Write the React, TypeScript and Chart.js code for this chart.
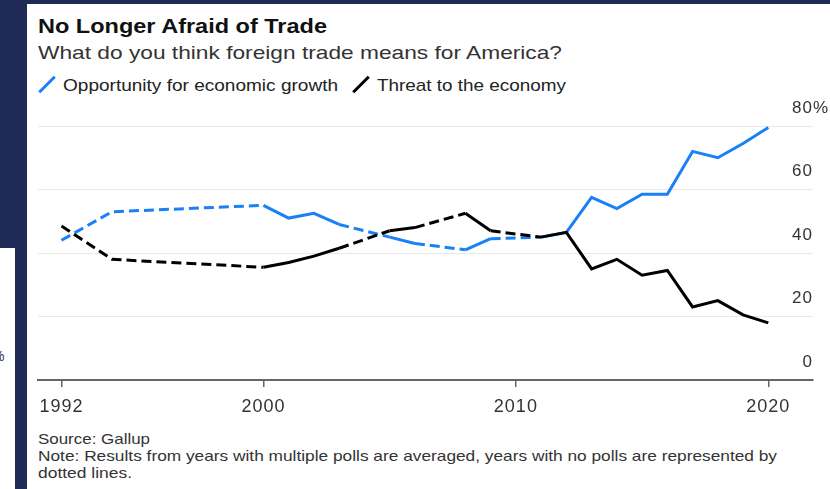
import React, { useEffect, useLayoutEffect, useRef } from 'react';
import { Chart, registerables } from 'chart.js';

Chart.register(...registerables);

// ---- data ----
const years = [1992, 1994, 2000, 2001, 2002, 2003, 2005, 2006, 2008, 2009, 2011, 2012, 2013, 2014, 2015, 2016, 2017, 2018, 2019, 2020];
const opportunity = [44, 53, 55, 51, 52.5, 49, 45, 43, 41, 44.5, 45, 46.5, 57.5, 54, 58.5, 58.5, 72, 70, 74.5, 79.5];
const threat = [48.5, 38, 35.5, 37, 39, 41.5, 47, 48, 52.5, 47, 45, 46.5, 35, 38, 33, 34.5, 23, 25, 20.5, 18];
const xTickValues = [1992, 2000, 2010, 2020];
const yTickValues = [0, 20, 40, 60, 80];
const seriesNames = ['Opportunity for economic growth', 'Threat to the economy'];
const titleText = 'No Longer Afraid of Trade';
const subtitleText = 'What do you think foreign trade means for America?';
const sourceText = 'Source: Gallup';
const noteLine1 = 'Note: Results from years with multiple polls are averaged, years with no polls are represented by';
const noteLine2 = 'dotted lines.';

// ---- styles ----
const FAMILY = '"Liberation Sans", Arial, Helvetica, sans-serif';
const BLUE = '#1a80f5';
const BLACK = '#000000';
const NAVY = '#1f2a56';
const TEXT = '#333333';

type TxtProps = {
  x: number;
  base: number;
  size: number;
  width: number;
  weight?: number;
  color?: string;
  children: React.ReactNode;
};

function Txt({ x, base, size, width, weight = 400, color = TEXT, children }: TxtProps) {
  const ref = useRef<HTMLSpanElement>(null);
  useLayoutEffect(() => {
    const fit = () => {
      const el = ref.current;
      if (!el) return;
      el.style.transform = 'none';
      const w = el.getBoundingClientRect().width;
      if (w > 0) el.style.transform = `scaleX(${width / w})`;
    };
    fit();
    if ((document as any).fonts && (document as any).fonts.ready) {
      (document as any).fonts.ready.then(fit);
    }
  }, [width]);
  const top = base - size * 0.8465;
  return (
    <span
      ref={ref}
      style={{
        position: 'absolute',
        left: x,
        top,
        fontSize: size,
        lineHeight: `${size}px`,
        fontWeight: weight,
        color,
        whiteSpace: 'nowrap',
        transformOrigin: '0 0',
        fontFamily: FAMILY,
      }}
    >
      {children}
    </span>
  );
}

function Slash({ cx, cy, color }: { cx: number; cy: number; color: string }) {
  return (
    <div
      style={{
        position: 'absolute',
        left: cx - 11,
        top: cy - 1.5,
        width: 22,
        height: 3,
        background: color,
        transform: 'rotate(-45deg)',
      }}
    />
  );
}

const spacingPlugin = {
  id: 'spacing',
  beforeDraw(chart: any) {
    chart.ctx.letterSpacing = '1px';
  },
  afterDraw(chart: any) {
    const ctx = chart.ctx;
    const ys = chart.scales.y;
    ctx.save();
    ctx.font = `17px ${FAMILY}`;
    ctx.fillStyle = TEXT;
    ctx.textAlign = 'left';
    ctx.textBaseline = 'middle';
    ctx.fillText('%', chart.chartArea.right, ys.getPixelForValue(yTickValues[yTickValues.length - 1]) - 18);
    ctx.restore();
    ctx.letterSpacing = '0px';
  },
};

function LineChart() {
  const canvasRef = useRef<HTMLCanvasElement>(null);
  useEffect(() => {
    const gapDash = (ctx: any) => (ctx.p1.parsed.x - ctx.p0.parsed.x > 1 ? [10, 5] : undefined);
    const chart = new Chart(canvasRef.current as HTMLCanvasElement, {
      type: 'line',
      data: {
        datasets: [
          {
            label: seriesNames[0],
            data: years.map((y, i) => ({ x: y, y: opportunity[i] })),
            borderColor: BLUE,
            backgroundColor: BLUE,
            borderWidth: 3,
            pointRadius: 0,
            tension: 0,
            order: 1,
            clip: false as any,
            segment: { borderDash: gapDash },
          },
          {
            label: seriesNames[1],
            data: years.map((y, i) => ({ x: y, y: threat[i] })),
            borderColor: BLACK,
            backgroundColor: BLACK,
            borderWidth: 3,
            pointRadius: 0,
            tension: 0,
            order: 0,
            clip: false as any,
            segment: { borderDash: gapDash },
          },
        ],
      },
      options: {
        animation: false,
        responsive: true,
        maintainAspectRatio: false,
        layout: { padding: { left: 38, right: 17, top: 30, bottom: 0 } },
        plugins: {
          legend: { display: false },
          tooltip: { enabled: false },
          title: { display: false },
        },
        scales: {
          x: {
            type: 'linear',
            min: 1991.07,
            max: 2021.77,
            afterBuildTicks: (s: any) => {
              s.ticks = xTickValues.map((v) => ({ value: v }));
            },
            afterFit: (s: any) => {
              s.height = 46;
            },
            ticks: {
              autoSkip: false,
              maxRotation: 0,
              color: TEXT,
              padding: 9,
              font: { family: FAMILY, size: 18 },
              callback: (v: any) => String(v),
            },
            grid: {
              drawOnChartArea: false,
              drawTicks: true,
              tickLength: 7,
              color: '#666666',
              lineWidth: 1.5,
            },
            border: { display: true, color: '#666666', width: 2 },
          },
          y: {
            type: 'linear',
            position: 'right',
            min: 0,
            max: 80,
            afterBuildTicks: (s: any) => {
              s.ticks = yTickValues.map((v) => ({ value: v }));
            },
            afterFit: (s: any) => {
              s.width = 0;
            },
            ticks: {
              mirror: true,
              padding: 0,
              labelOffset: -18,
              color: TEXT,
              font: { family: FAMILY, size: 17 },
              callback: (v: any) => String(v),
            },
            grid: { color: '#e8e8e8', lineWidth: 1, drawTicks: false },
            border: { display: false },
          },
        },
      },
      plugins: [spacingPlugin],
    });
    return () => chart.destroy();
  }, []);
  return (
    <div style={{ position: 'absolute', left: 0, top: 96, width: 830, height: 330 }}>
      <canvas ref={canvasRef} style={{ display: 'block' }} />
    </div>
  );
}

export default function App() {
  return (
    <div style={{ position: 'fixed', left: 0, top: 0, width: 830, height: 489, background: NAVY, overflow: 'hidden' }}>
      {/* partial neighbouring card on the left */}
      <div style={{ position: 'absolute', left: 0, top: 248, width: 15, height: 241, background: '#ffffff', overflow: 'hidden' }}>
        <span style={{ position: 'absolute', left: -8, top: 100, fontSize: 14, fontFamily: FAMILY, color: TEXT }}>%</span>
      </div>
      {/* main card */}
      <div style={{ position: 'absolute', left: 27, top: 4, width: 803, height: 485, background: '#ffffff' }} />
      <Txt x={38} base={33} size={20} width={289} weight={700} color="#111111">{titleText}</Txt>
      <Txt x={38} base={59} size={19} width={524}>{subtitleText}</Txt>
      <Slash cx={47} cy={84.5} color={BLUE} />
      <Txt x={63} base={91} size={17} width={275} color="#222222">{seriesNames[0]}</Txt>
      <Slash cx={361} cy={84.5} color={BLACK} />
      <Txt x={377} base={91} size={17} width={189} color="#222222">{seriesNames[1]}</Txt>
      <LineChart />
      <Txt x={38} base={444} size={15} width={112}>{sourceText}</Txt>
      <Txt x={38} base={461} size={15} width={739}>{noteLine1}</Txt>
      <Txt x={38} base={478} size={15} width={94}>{noteLine2}</Txt>
    </div>
  );
}
